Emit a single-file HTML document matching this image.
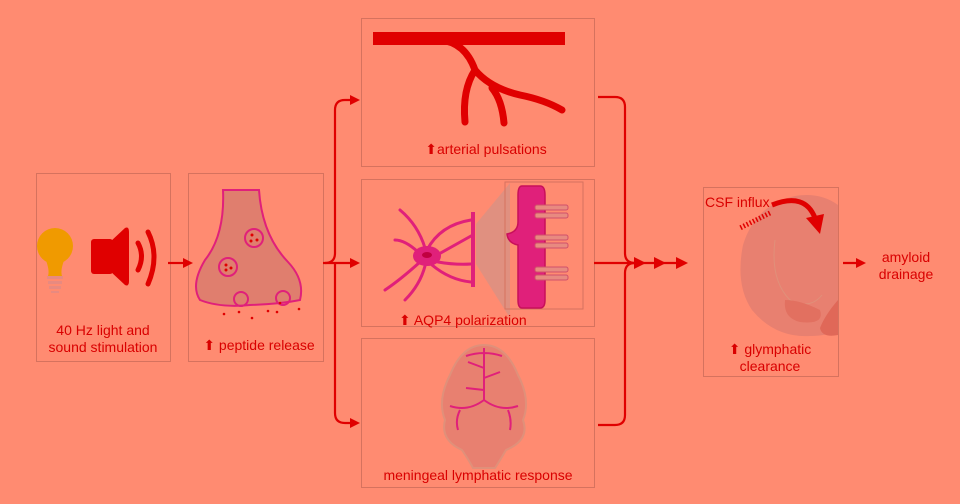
<!DOCTYPE html>
<html><head><meta charset="utf-8"><style>
body{margin:0;background:#FF8B71;}
svg{display:block}
text{font-family:"Liberation Sans",sans-serif;fill:#D90000;font-size:14px}
</style></head><body>
<svg width="960" height="504" viewBox="0 0 960 504">
<rect width="960" height="504" fill="#FF8B71"/>
<g fill="none" stroke="#D6725E" stroke-width="1">
<rect x="36.5" y="173.5" width="134" height="188"/>
<rect x="188.5" y="173.5" width="135" height="188"/>
<rect x="361.5" y="18.5" width="233" height="148"/>
<rect x="361.5" y="179.5" width="233" height="147"/>
<rect x="361.5" y="338.5" width="233" height="149"/>
<rect x="703.5" y="187.5" width="135" height="189"/>
</g>
<g stroke="#E00000" stroke-width="2.2" fill="none">
<path d="M168 263 H184"/>
<path d="M323 263 H356"/>
<path d="M351 100 H345 Q335 100 335 110 V253 Q335 263 325 263 M335 263 Q335 273 335 283 V413 Q335 423 345 423 H351"/>
<path d="M598 97 H615 Q625 97 625 107 V253 Q625 263 635 263 M598 425 H615 Q625 425 625 415 V273 Q625 263 635 263"/>
<path d="M594 263 H680"/>
<path d="M843 263 H860"/>
</g>
<g fill="#E00000">
<polygon points="193,263 183,258 183,268"/>
<polygon points="360,263 350,258 350,268"/>
<polygon points="360,100 350,95 350,105"/>
<polygon points="360,423 350,418 350,428"/>
<polygon points="646,263 634,257 634,269"/>
<polygon points="666,263 654,257 654,269"/>
<polygon points="688,263 676,257 676,269"/>
<polygon points="866,263 856,258 856,268"/>
</g>
<circle cx="55" cy="246" r="18" fill="#F09A00"/>
<path d="M45 258 Q50 270 48 276 H62 Q60 270 65 258 Z" fill="#F09A00"/>
<g fill="#E88A80"><rect x="47" y="276" width="16" height="3"/><rect x="48" y="281" width="14" height="3"/><rect x="49" y="286" width="12" height="3"/><rect x="51" y="291" width="8" height="2"/></g>
<rect x="91" y="239" width="22" height="35" rx="3" fill="#E00000"/>
<path d="M110 242 L125 228 Q129 226 129 232 V281 Q129 287 125 285 L110 271 Z" fill="#E00000"/>
<path d="M138 243 Q145 256 138 270" stroke="#E00000" stroke-width="5" fill="none" stroke-linecap="round"/>
<path d="M148 232 Q160 256 148 284" stroke="#E00000" stroke-width="5" fill="none" stroke-linecap="round"/>
<text x="103" y="335" text-anchor="middle">40 Hz light and</text>
<text x="103" y="352" text-anchor="middle">sound stimulation</text>
<path d="M223 190 Q225 235 205 260 Q190 285 200 300 Q220 308 250 305 Q280 304 300 300 Q305 280 288 262 Q262 235 259 190 Z" fill="#E07E6E" stroke="#E0207A" stroke-width="2"/>
<g fill="none" stroke="#E0207A" stroke-width="2"><circle cx="254" cy="238" r="9"/><circle cx="228" cy="267" r="9"/><circle cx="241" cy="299" r="7"/><circle cx="283" cy="298" r="7"/></g>
<g fill="#E00000"><circle cx="252" cy="235" r="1.5"/><circle cx="257" cy="240" r="1.5"/><circle cx="251" cy="241" r="1.5"/><circle cx="226" cy="265" r="1.5"/><circle cx="231" cy="268" r="1.5"/><circle cx="226" cy="270" r="1.5"/><circle cx="224" cy="314" r="1.3"/><circle cx="239" cy="312" r="1.3"/><circle cx="252" cy="318" r="1.3"/><circle cx="268" cy="311" r="1.3"/><circle cx="277" cy="312" r="1.3"/><circle cx="280" cy="303" r="1.3"/><circle cx="299" cy="309" r="1.3"/></g>
<text x="259" y="350" text-anchor="middle">⬆ peptide release</text>
<rect x="373" y="32" width="192" height="13" fill="#E00000"/>
<g stroke="#E00000" stroke-width="7" fill="none" stroke-linecap="round">
<path d="M440 40 Q465 42 475 70 Q490 88 520 95 Q545 100 562 110"/>
<path d="M475 70 Q462 90 465 122"/>
<path d="M492 88 Q502 100 504 123"/>
</g>
<text x="486" y="154" text-anchor="middle">⬆arterial pulsations</text>
<path d="M476 224 L510 183 V318 L476 264 Z" fill="#E09080"/>
<rect x="505" y="182" width="78" height="127" fill="none" stroke="#D6725E"/>
<ellipse cx="427" cy="256" rx="14" ry="10" fill="#E0207A"/>
<ellipse cx="427" cy="255" rx="5" ry="3" fill="#C00040"/>
<g stroke="#E0207A" stroke-width="3" fill="none" stroke-linecap="round">
<path d="M427 250 Q440 225 471 220"/><path d="M437 255 Q455 245 471 236"/><path d="M438 262 Q455 265 471 264"/><path d="M432 265 Q450 280 471 282"/>
<path d="M418 252 Q405 240 395 240"/><path d="M420 262 Q400 280 385 290"/><path d="M425 248 Q418 225 400 210"/><path d="M425 266 Q420 285 405 300"/>
</g>
<g stroke="#E0207A" stroke-width="4"><path d="M473 212 V287"/></g>
<path d="M522 186 H540 Q545 186 545 195 V300 Q545 308 540 308 H522 Q518 308 518 300 V245 Q508 243 507 234 Q518 232 518 222 V195 Q518 186 522 186 Z" fill="#E0207A" stroke="#C8105A" stroke-width="1.5"/>
<g fill="#E88A80" stroke="#D0506A" stroke-width="1"><rect x="535" y="205" width="33" height="5" rx="2"/><rect x="535" y="213" width="33" height="5" rx="2"/><rect x="535" y="235" width="33" height="5" rx="2"/><rect x="535" y="243" width="33" height="5" rx="2"/><rect x="535" y="267" width="33" height="5" rx="2"/><rect x="535" y="275" width="33" height="5" rx="2"/></g>
<text x="399" y="325">⬆ AQP4 polarization</text>
<path d="M484 345 Q462 345 450 375 Q437 400 445 420 Q440 440 462 450 Q470 462 473 468 H495 Q499 462 506 450 Q530 440 523 420 Q531 400 518 375 Q506 345 484 345 Z" fill="#E88070" stroke="#E0907A" stroke-width="2"/>
<g stroke="#E0207A" stroke-width="2" fill="none"><path d="M484 348 V400 Q468 412 450 406 M484 400 Q500 412 518 406 M466 356 Q484 350 502 356 M484 368 L468 362 M484 378 L500 372 M484 390 L466 388 M460 410 Q455 420 458 430 M508 410 Q512 420 510 430"/></g>
<text x="478" y="480" text-anchor="middle">meningeal lymphatic response</text>
<path d="M838 205 Q820 192 795 196 Q755 205 743 245 Q735 285 752 310 Q775 338 810 336 Q828 336 838 330 Z" fill="#E88070"/>
<path d="M775 240 Q770 280 790 300 Q810 310 822 295" fill="none" stroke="#E0907A" stroke-width="1"/>
<path d="M785 300 Q800 300 820 310 Q825 325 800 322 Q783 318 785 300 Z" fill="#E27060"/>
<path d="M838 300 V335 Q822 338 820 328 Q825 315 838 300 Z" fill="#E06858"/>
<path d="M770 213 L740 228" stroke="#E00000" stroke-width="5" stroke-dasharray="1.5 2"/>
<path d="M772 205 Q805 192 815 218" stroke="#E00000" stroke-width="5" fill="none"/>
<polygon points="806,218 824,214 820,234" fill="#E00000"/>
<text x="705" y="207" font-size="13">CSF influx</text>
<text x="770" y="354" text-anchor="middle">⬆ glymphatic</text>
<text x="770" y="371" text-anchor="middle">clearance</text>
<text x="906" y="262" text-anchor="middle">amyloid</text>
<text x="906" y="279" text-anchor="middle">drainage</text>
</svg>
</body></html>
